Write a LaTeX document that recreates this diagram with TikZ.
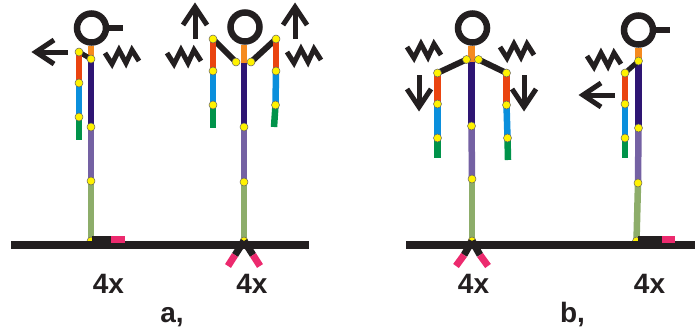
\documentclass[tikz,border=0pt]{standalone}
\usepackage{fontspec}
\setmainfont{Liberation Sans}
\usepackage{tikz}

\definecolor{ink}{HTML}{231F20}
\definecolor{neckc}{HTML}{F58A1F}
\definecolor{upperc}{HTML}{EA4410}
\definecolor{forec}{HTML}{0A8FDC}
\definecolor{handc}{HTML}{00934A}
\definecolor{trunkc}{HTML}{2E1573}
\definecolor{thighc}{HTML}{7461A3}
\definecolor{shinc}{HTML}{8DAD6A}
\definecolor{toec}{HTML}{EC2A6E}
\definecolor{jointc}{HTML}{FFF200}

\tikzset{
  spring/.pic={\draw[zig] (0,4) -- (7,15) -- (14,1) -- (21,14) -- (27,1) -- (34,12);},
  shove/.pic={\draw[zig] (0,0) -- (-32,0); \draw[zig] (-18,-12) -- (0,0) -- (-18,12);}
}

\begin{document}
\begin{tikzpicture}[x=1pt,y=-1pt,
    limb/.style={line width=6.5pt},
    bone/.style={draw=ink,line width=6pt},
    zig/.style={draw=ink,line width=5pt,line join=miter},
    head/.style={circle,draw=ink,line width=6.5pt,minimum size=29pt,inner sep=0pt},
    joint/.style={circle,draw=ink!70,line width=0.5pt,fill=jointc,minimum size=8pt,inner sep=0pt},
    ground/.style={draw=ink,line width=8pt},
    foot/.style={line width=7pt},
    tag/.style={font=\fontsize{28}{28}\selectfont\bfseries,text=ink,anchor=base,inner sep=0pt}]
  \useasboundingbox (0,0) rectangle (695,332);

  % --- a, left: standing, one arm down
  \coordinate (An) at (91,59);
  \coordinate (Ah) at (91,127);
  \coordinate (Ak) at (91,181);
  \coordinate (Af) at (91,241);
  \coordinate (As) at (79,52);
  \coordinate (Ae) at (79,83);
  \coordinate (Aw) at (79,117);
  \coordinate (At) at (79,140);
  \node[head] (Ahd) at (91.5,28) {};
  \draw[bone] (Ahd.east) -- ++(14,0);
  \draw[limb,neckc] (An) -- (An |- Ahd.south);
  \draw[limb,trunkc] (An) -- (Ah);
  \draw[limb,thighc] (Ah) -- (Ak);
  \draw[limb,shinc] (Ak) -- (Af);
  \draw[bone,line width=5pt] (An) -- (As);
  \draw[limb,upperc] (As) -- (Ae);
  \draw[limb,forec] (Ae) -- (Aw);
  \draw[limb,handc] (Aw) -- (At);
  \pic[rotate=180] at (36,52) {shove};
  \pic at (105,49) {spring};

  % --- a, right: arms up
  \coordinate (Bn) at (244,63);
  \coordinate (Bl) at (236,62);
  \coordinate (Br) at (251,62);
  \coordinate (Bh) at (244,127);
  \coordinate (Bk) at (244,182);
  \coordinate (Bf) at (244,241);
  \coordinate (Bs1) at (213,39);
  \coordinate (Be1) at (213,71);
  \coordinate (Bw1) at (213,105);
  \coordinate (Bt1) at (213,128);
  \coordinate (Bs2) at (276,39);
  \coordinate (Be2) at (276,71);
  \coordinate (Bw2) at (275.5,105);
  \coordinate (Bt2) at (274,127);
  \node[head] (Bhd) at (245,27) {};
  \draw[limb,neckc] (Bn) -- (Bn |- Bhd.south);
  \draw[limb,trunkc] (Bn) -- (Bh);
  \draw[limb,thighc] (Bh) -- (Bk);
  \draw[limb,shinc] (Bk) -- (Bf);
  \draw[bone] (Bl) -- (Bs1);
  \draw[bone] (Br) -- (Bs2);
  \draw[limb,upperc] (Bs1) -- (Be1);
  \draw[limb,forec] (Be1) -- (Bw1);
  \draw[limb,handc] (Bw1) -- (Bt1);
  \draw[limb,upperc] (Bs2) -- (Be2);
  \draw[limb,forec] (Be2) -- (Bw2);
  \draw[limb,handc] (Bw2) -- (Bt2);
  \pic[rotate=90] at (195,7) {shove};
  \pic[rotate=90] at (295,7) {shove};
  \pic at (167,49) {spring};
  \pic at (287,48) {spring};

  % --- b, left: arms spread, pushing down
  \coordinate (Cn) at (471.5,62);
  \coordinate (Cl) at (466.5,59.5);
  \coordinate (Cr) at (478.5,59.5);
  \coordinate (Ch) at (471.5,126);
  \coordinate (Ck) at (472,179);
  \coordinate (Cf) at (472,241);
  \coordinate (Cs1) at (437.5,73);
  \coordinate (Ce1) at (437.5,104);
  \coordinate (Cw1) at (437.5,138);
  \coordinate (Ct1) at (437.5,158);
  \coordinate (Cs2) at (506.5,73);
  \coordinate (Ce2) at (506.5,105);
  \coordinate (Cw2) at (507.5,138);
  \coordinate (Ct2) at (508,160);
  \node[head] (Chd) at (472.5,28) {};
  \draw[limb,neckc] (Cn) -- (Cn |- Chd.south);
  \draw[limb,trunkc] (Cn) -- (Ch);
  \draw[limb,thighc] (Ch) -- (Ck);
  \draw[limb,shinc] (Ck) -- (Cf);
  \draw[bone] (Cl) -- (Cs1);
  \draw[bone] (Cr) -- (Cs2);
  \draw[limb,upperc] (Cs1) -- (Ce1);
  \draw[limb,forec] (Ce1) -- (Cw1);
  \draw[limb,handc] (Cw1) -- (Ct1);
  \draw[limb,upperc] (Cs2) -- (Ce2);
  \draw[limb,forec] (Ce2) -- (Cw2);
  \draw[limb,handc] (Cw2) -- (Ct2);
  \pic[rotate=-90] at (419,107) {shove};
  \pic[rotate=-90] at (524,107) {shove};
  \pic at (407,43) {spring};
  \pic at (500,43) {spring};

  % --- b, right: leaning, one arm down
  \coordinate (Dn) at (638.5,61);
  \coordinate (Dh) at (638.5,128);
  \coordinate (Dk) at (638,183);
  \coordinate (Df) at (636.5,241);
  \coordinate (Ds) at (625,73);
  \coordinate (De) at (625,104);
  \coordinate (Dw) at (625,138);
  \coordinate (Dt) at (625,158);
  \node[head] (Dhd) at (638.5,30) {};
  \draw[bone] (Dhd.east) -- ++(14,0);
  \draw[limb,neckc] (Dn) -- (Dn |- Dhd.south);
  \draw[limb,trunkc] (Dn) -- (Dh);
  \draw[limb,thighc] (Dh) -- (Dk);
  \draw[limb,shinc] (Dk) -- (Df);
  \draw[bone,line width=5pt] (Dn) -- (Ds);
  \draw[limb,upperc] (Ds) -- (De);
  \draw[limb,forec] (De) -- (Dw);
  \draw[limb,handc] (Dw) -- (Dt);
  \pic[rotate=180] at (583,95) {shove};
  \pic at (587,52) {spring};

  % joints
  \foreach \j in {As,Ae,Aw,An,Ah,Ak,Af,
                  Bs1,Be1,Bw1,Bs2,Be2,Bw2,Bl,Br,Bh,Bk,Bf,
                  Cs1,Ce1,Cw1,Cs2,Ce2,Cw2,Cl,Cr,Ch,Ck,Cf,
                  Ds,De,Dw,Dn,Dh,Dk,Df}
    \node[joint] (dot\j) at (\j) {};

  % floors
  \coordinate (ga) at (11,245);
  \coordinate (gb) at (309,245);
  \coordinate (gc) at (406,245);
  \coordinate (gd) at (695,245);
  \draw[ground] (ga) -- (gb);
  \draw[ground] (gc) -- (gd);

  % feet
  \draw[foot,ink] (92,239.5) -- (111,239.5);
  \draw[foot,toec] (111,239.5) -- (125,239.5);
  \draw[foot,ink] (Bf) -- (235,255);
  \draw[foot,toec] (235,255) -- (228,266);
  \draw[foot,ink] (Bf) -- (253,255);
  \draw[foot,toec] (253,255) -- (260,266);
  \draw[foot,ink] (Cf) -- (464,255);
  \draw[foot,toec] (464,255) -- (456,266);
  \draw[foot,ink] (Cf) -- (480,255);
  \draw[foot,toec] (480,255) -- (488,266);
  \draw[foot,ink] (638,239.5) -- (662,239.5);
  \draw[foot,toec] (662,239.5) -- (675,239.5);

  % labels
  \node[tag] (na1) at (108.5,293) {4x};
  \node[tag] (na2) at (252,293) {4x};
  \node[tag] (nb1) at (473.5,293) {4x};
  \node[tag] (nb2) at (649.5,293) {4x};
  \node[tag] (ca) at (172,322) {a,};
  \node[tag] (cb) at (572.5,322) {b,};
\end{tikzpicture}
\end{document}
